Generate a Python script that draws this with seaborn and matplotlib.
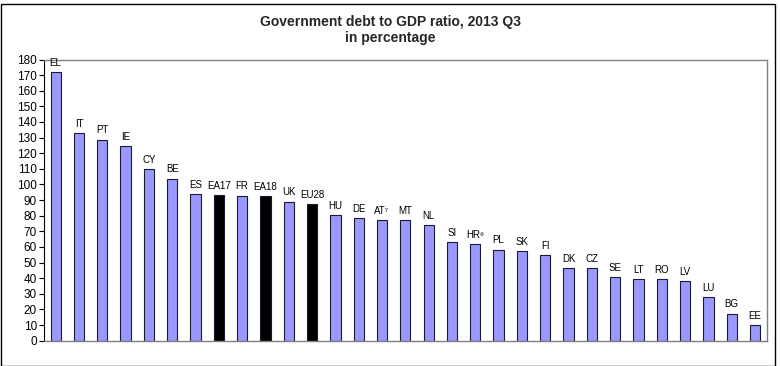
import matplotlib
matplotlib.use("Agg")
import matplotlib.pyplot as plt
import seaborn as sns
import pandas as pd
from matplotlib.patches import Rectangle

categories = ["EL", "IT", "PT", "IE", "CY", "BE", "ES", "EA17", "FR", "EA18", "UK", "EU28",
              "HU", "DE", "AT⁷", "MT", "NL", "SI", "HR⁶", "PL", "SK", "FI", "DK", "CZ",
              "SE", "LT", "RO", "LV", "LU", "BG", "EE"]
values = [171.8, 132.9, 128.7, 124.8, 109.6, 103.8, 93.6, 93.1, 92.9, 92.7, 89.1, 87.2,
          80.3, 78.4, 77.1, 77.0, 73.9, 63.0, 61.9, 58.3, 57.4, 54.9, 46.4, 46.3,
          40.8, 39.6, 39.2, 38.2, 27.7, 17.4, 10.1]
aggregates = ["EA17", "EA18", "EU28"]

sns.set_theme(style="white")
plt.rcParams["font.family"] = ["Liberation Sans", "DejaVu Sans"]

df = pd.DataFrame({"cat": categories, "val": values})
colors = {c: ("#000000" if c in aggregates else "#9999FF") for c in categories}

fig = plt.figure(figsize=(7.8, 3.66), dpi=100)
ax = fig.add_axes([44/780, 1-340.7/366, (766.7-44)/780, (340.7-59.5)/366])

sns.barplot(data=df, x="cat", y="val", hue="cat", palette=colors, legend=False,
            width=0.44, edgecolor="#1a1a33", linewidth=0.8, saturation=1, ax=ax)

ax.set_xlim(-0.5, len(categories) - 0.5)
ax.set_ylim(0, 180)
ax.set_yticks(range(0, 181, 10))
ax.set_yticklabels([str(v) for v in range(0, 181, 10)], fontsize=8.5)
ax.set_xticks([])
ax.set_xlabel("")
ax.set_ylabel("")
ax.tick_params(axis="y", which="both", left=True, length=3.5, width=0.8, pad=1.5,
               color="black", labelcolor="black")

for s in ["top", "right"]:
    ax.spines[s].set_color("#808080")
    ax.spines[s].set_linewidth(1.0)
ax.spines["bottom"].set_color("#808080")
ax.spines["bottom"].set_linewidth(1.0)
ax.spines["left"].set_color("black")
ax.spines["left"].set_linewidth(0.8)

for i, (c, v) in enumerate(zip(categories, values)):
    ax.annotate(c, (i, v), xytext=(0, 3), textcoords="offset points",
                ha="center", va="bottom", fontsize=7, color="black")

fig.text(0.5, 1 - 22/366, "Government debt to GDP ratio, 2013 Q3", ha="center", va="center",
         fontsize=10, fontweight="bold")
fig.text(0.5, 1 - 38/366, "in percentage", ha="center", va="center",
         fontsize=10, fontweight="bold")

fig.patches.append(Rectangle((0.5/780, 0.5/366), 1 - 6/780, 1 - 4/366, transform=fig.transFigure,
                             fill=False, edgecolor="black", linewidth=1.0))

fig.savefig("out.png", dpi=100)
